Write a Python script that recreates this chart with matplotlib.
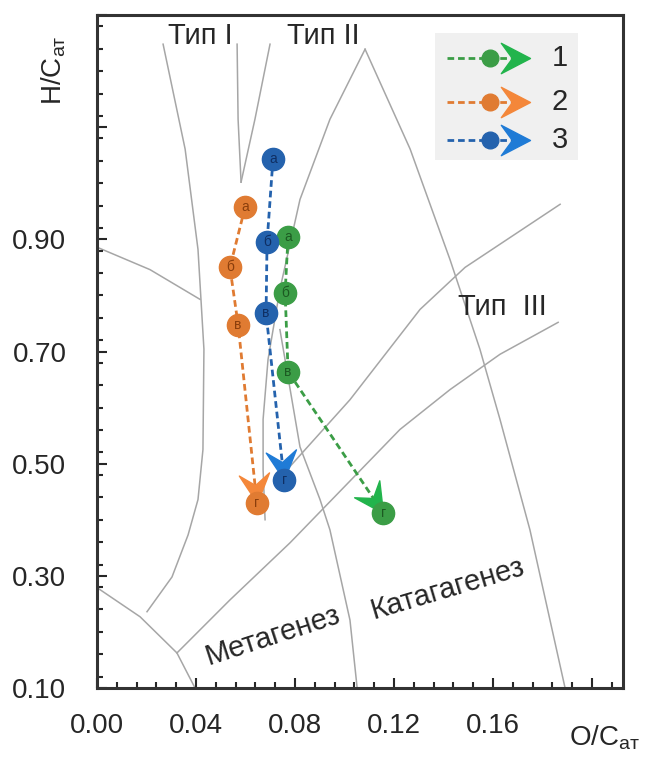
import matplotlib
matplotlib.use('Agg')
import matplotlib.pyplot as plt
from matplotlib.path import Path
from matplotlib.markers import MarkerStyle
from matplotlib.transforms import Affine2D
from matplotlib.ticker import MultipleLocator, FixedLocator, FuncFormatter
import numpy as np

plt.rcParams['font.family'] = ['Liberation Sans', 'DejaVu Sans']
plt.rcParams['mathtext.fontset'] = 'custom'
plt.rcParams['mathtext.rm'] = 'Liberation Sans'

# ---- data ----
point_labels = ['а', 'б', 'в', 'г']

s1_oc = [0.0772, 0.0760, 0.0772, 0.1156]
s1_hc = [0.905, 0.805, 0.664, 0.4125]
s2_oc = [0.0598, 0.0537, 0.0570, 0.0646]
s2_hc = [0.957, 0.850, 0.748, 0.430]
s3_oc = [0.0711, 0.0687, 0.0683, 0.0756]
s3_hc = [1.043, 0.895, 0.768, 0.471]

series_names = ['1', '2', '3']

# background curves of the diagram (O/C, H/C)
c1_x = [0.0267, 0.0356, 0.0408, 0.0432, 0.0428, 0.0408, 0.0368, 0.0303, 0.0202]
c1_y = [1.248, 1.061, 0.882, 0.704, 0.525, 0.436, 0.373, 0.298, 0.236]
c2_x = [0.0, 0.0214, 0.0416]
c2_y = [0.886, 0.846, 0.793]
c3_x = [0.0566, 0.0570, 0.0582]
c3_y = [1.248, 1.114, 1.002]
c4_x = [0.0699, 0.0638, 0.0582]
c4_y = [1.248, 1.114, 1.002]
c5_x = [0.1083, 0.0941, 0.0820, 0.0739, 0.0691, 0.0671, 0.0671, 0.0679]
c5_y = [1.239, 1.114, 0.971, 0.811, 0.686, 0.579, 0.489, 0.400]
c6_x = [0.1083, 0.1265, 0.1426, 0.1547, 0.1628, 0.1749, 0.1891]
c6_y = [1.239, 1.061, 0.864, 0.704, 0.579, 0.382, 0.100]
c7_x = [0.0739, 0.1022, 0.1305, 0.1487, 0.1871]
c7_y = [0.475, 0.614, 0.775, 0.850, 0.9625]
c8_x = [0.0323, 0.0537, 0.0780, 0.1224, 0.1426, 0.1628, 0.1863]
c8_y = [0.1625, 0.257, 0.359, 0.561, 0.632, 0.695, 0.752]
c9_x = [0.0, 0.0174, 0.0323, 0.0396]
c9_y = [0.279, 0.227, 0.1625, 0.100]
c10_x = [0.0739, 0.0820, 0.0901, 0.0941, 0.1022, 0.1051]
c10_y = [0.739, 0.530, 0.436, 0.382, 0.221, 0.100]

curves = [(c1_x, c1_y), (c2_x, c2_y), (c3_x, c3_y), (c4_x, c4_y), (c5_x, c5_y),
          (c6_x, c6_y), (c7_x, c7_y), (c8_x, c8_y), (c9_x, c9_y), (c10_x, c10_y)]

# colors: marker face, letter, arrow
colors = [
    ('#3b9d46', '#1c5a22', '#22b44c'),
    ('#e07b32', '#8a3e0c', '#f4873a'),
    ('#2462ad', '#0f2f63', '#1f7bd6'),
]

fig = plt.figure(figsize=(6.48, 7.58), dpi=100)
ax = fig.add_axes([97 / 648, 1 - 688 / 758, 526 / 648, 673 / 758])
ax.set_xlim(0, 0.2125)
ax.set_ylim(0.10, 1.30)

for cx, cy in curves:
    ax.plot(cx, cy, color='#a6a6a6', lw=1.1, zorder=1)

txt = dict(fontsize=21, ha='center', va='center', color='#262626')
ax.text(0.0416, 1.262, 'Тип I', **txt)
ax.text(0.0913, 1.262, 'Тип II', **txt)
ax.text(0.1636, 0.780, 'Тип  III', **txt)
ax.text(0.0711, 0.193, 'Метагенез', rotation=18, rotation_mode='anchor', **txt)
ax.text(0.1418, 0.277, 'Катагагенез', rotation=16.5, rotation_mode='anchor', **txt)

# arrow head marker (tip at origin, pointing +x)
arrow_verts = [(0, 0), (-1, 0.52), (-0.62, 0), (-1, -0.52), (0, 0)]
arrow_codes = [Path.MOVETO, Path.LINETO, Path.LINETO, Path.LINETO, Path.CLOSEPOLY]


def arrow_marker(angle):
    return MarkerStyle(Path(arrow_verts, arrow_codes), transform=Affine2D().rotate_deg(angle))


all_series = [(s1_oc, s1_hc), (s2_oc, s2_hc), (s3_oc, s3_hc)]
for (xs, ys), (face, letter, arr) in zip(all_series, colors):
    ax.plot(xs, ys, ls=(0, (2.4, 1.4)), color=face, lw=2.0, zorder=3)
    p0 = ax.transData.transform((xs[-2], ys[-2]))
    p1 = ax.transData.transform((xs[-1], ys[-1]))
    ang = np.degrees(np.arctan2(p1[1] - p0[1], p1[0] - p0[0]))
    ax.plot([xs[-1]], [ys[-1]], marker=arrow_marker(ang), ms=42, color=arr,
            mec=arr, ls='none', zorder=4)
    ax.plot(xs, ys, 'o', ms=16, mfc=face, mec=face, ls='none', zorder=5)
    for x, y, t in zip(xs, ys, point_labels):
        ax.text(x, y, t, fontsize=10, ha='center', va='center', color=letter, zorder=6)

# legend drawn by hand
ax.add_patch(plt.Rectangle((0.643, 0.785), 0.272, 0.188, transform=ax.transAxes,
                           facecolor='#f0f0f0', edgecolor='none', zorder=7))
leg_y = [0.936, 0.871, 0.814]
for yy, name, (face, letter, arr) in zip(leg_y, series_names, colors):
    ax.plot([0.665, 0.80], [yy, yy], transform=ax.transAxes, ls=(0, (2.4, 1.4)),
            color=face, lw=2.0, zorder=8)
    ax.plot([0.823], [yy], transform=ax.transAxes, marker=arrow_marker(0), ms=42,
            color=arr, ls='none', zorder=8)
    ax.plot([0.747], [yy], transform=ax.transAxes, marker='o', ms=12, mfc=face,
            mec=face, ls='none', zorder=9)
    ax.text(0.865, yy, name, transform=ax.transAxes, fontsize=21, ha='left',
            va='center', color='#262626', zorder=9)

# axes styling
for sp in ax.spines.values():
    sp.set_linewidth(2.2)
    sp.set_color('#333333')

ax.xaxis.set_major_locator(FixedLocator([0.0, 0.04, 0.08, 0.12, 0.16, 0.20]))
ax.xaxis.set_minor_locator(MultipleLocator(0.008))
ax.yaxis.set_major_locator(FixedLocator([0.1, 0.3, 0.5, 0.7, 0.9, 1.1, 1.3]))
ax.yaxis.set_minor_locator(MultipleLocator(0.04))
ax.xaxis.set_major_formatter(FuncFormatter(lambda v, p: f'{v:.2f}' if v < 0.19 else ''))
ax.yaxis.set_major_formatter(FuncFormatter(lambda v, p: f'{v:.2f}' if v < 1.0 else ''))
ax.tick_params(which='both', direction='in', top=False, right=False, colors='#262626',
               labelsize=20, width=1.5)
ax.tick_params(which='major', length=7)
ax.tick_params(which='minor', length=4)
ax.tick_params(axis='y', which='major', pad=22)
ax.tick_params(axis='x', which='major', pad=18)

fig.text(54 / 648, 1 - 70 / 758, 'H/C$_{\\mathregular{ат}}$', rotation=90, fontsize=20,
         ha='center', va='center', color='#262626')
fig.text(605 / 648, 1 - 738 / 758, 'O/C$_{\\mathregular{ат}}$', fontsize=20,
         ha='center', va='center', color='#262626')

fig.savefig('out.png', dpi=100)
